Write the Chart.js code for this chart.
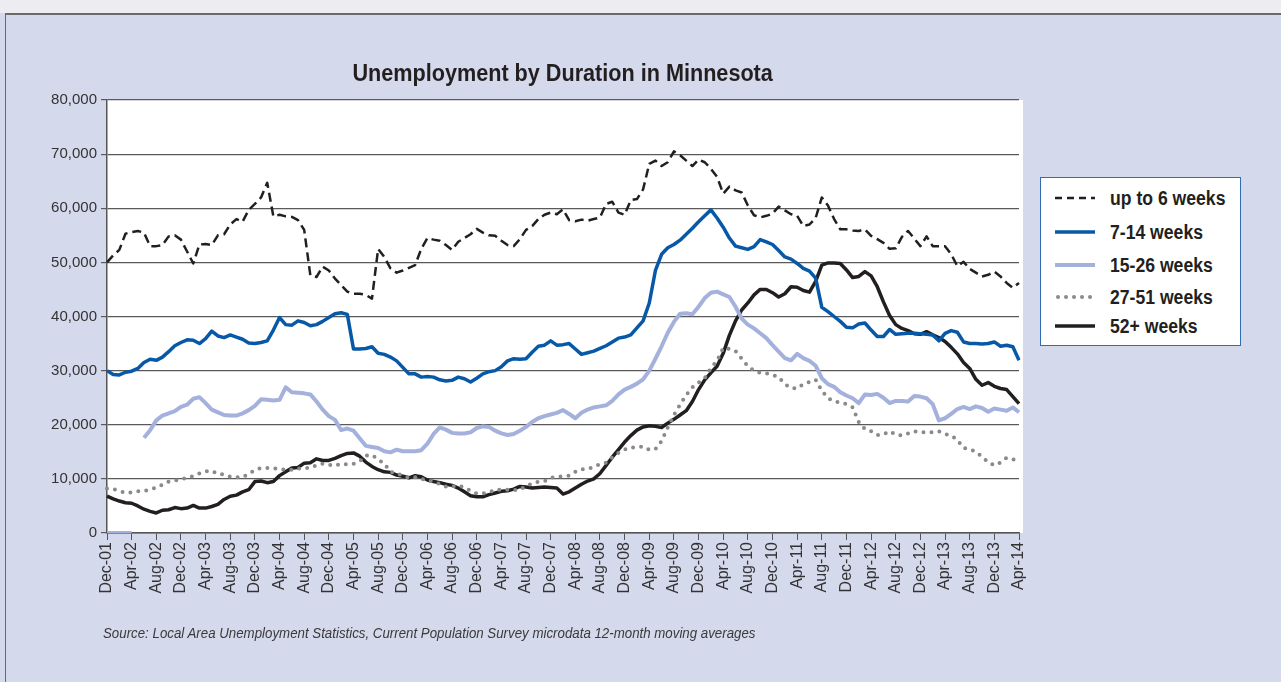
<!DOCTYPE html>
<html>
<head>
<meta charset="utf-8">
<script src="https://cdn.jsdelivr.net/npm/chart.js@4/dist/chart.umd.min.js"></script>
<style>
  body { margin: 0; background: #d5d9ec; width: 1281px; height: 682px; overflow: hidden; position: relative; font-family: "Liberation Sans", Arial, sans-serif; }
  #topstrip { position: absolute; left: 0; top: 0; width: 1281px; height: 13px; background: #ededf1; }
  #frame { position: absolute; left: 5px; top: 13px; width: 1290px; height: 700px; border-left: 1px solid #6a6a6a; border-top: 2px solid #6a6a6a; }
  #chart { position: absolute; left: 0; top: 0; }
  #title { position: absolute; left: 0; top: 59px; width: 1126px; text-align: center; font-weight: bold; font-size: 23px; line-height: 28px; color: #231f20; white-space: nowrap; }
  #title span { display: inline-block; transform: scaleX(0.94); }
  #legend { position: absolute; left: 1040px; top: 177px; width: 199px; height: 167px; border: 1px solid #2f6db5; background: #fff; }
  .row { position: absolute; left: 0; height: 24px; width: 199px; }
  .row svg { position: absolute; left: 14px; top: 7px; }
  .row span { position: absolute; left: 69px; top: 0; font-weight: bold; font-size: 20px; color: #231f20; line-height: 24px; white-space: nowrap; transform: scaleX(0.88); transform-origin: 0 50%; }
  #source { position: absolute; left: 103px; top: 624px; font-style: italic; font-size: 15px; color: #3a3a3a; white-space: nowrap; transform: scaleX(0.886); transform-origin: 0 50%; }
</style>
</head>
<body>
<div id="topstrip"></div>
<div id="frame"></div>
<canvas id="chart" width="1130" height="682"></canvas>
<div id="title"><span>Unemployment by Duration in Minnesota</span></div>
<div id="legend"></div>
<div id="source">Source: Local Area Unemployment Statistics, Current Population Survey microdata 12-month moving averages</div>
<script>
// months Dec-01 .. Apr-14
const monthNames = ["Jan","Feb","Mar","Apr","May","Jun","Jul","Aug","Sep","Oct","Nov","Dec"];
const categories = [];
for (let y = 2001, m = 11; ; m++) {
  if (m > 11) { m = 0; y++; }
  if (y === 2014 && m > 3) break;
  categories.push(monthNames[m] + "-" + String(y % 100).padStart(2, "0"));
}

const yTicks = [0, 10000, 20000, 30000, 40000, 50000, 60000, 70000, 80000];

const upTo6 = [
  50000, 51300, 52300, 55300, 55600, 55800, 55500, 53000, 53000, 53200, 54800, 55000,
  54200, 52000, 49800, 53300, 53400, 53200, 55000, 55200, 57000, 58000, 57500, 59700,
  60800, 62000, 64700, 58500, 58800, 58500, 58400, 57800, 56000, 47600, 47300, 49200,
  48500, 47000, 45800, 44600, 44200, 44200, 44000, 43300, 52500, 51000, 48900, 48100,
  48500, 49000, 49500, 52500, 54500, 54200, 54000, 53200, 52300, 53800, 54500, 55200,
  56200, 55500, 55000, 54900, 54000, 53200, 53000, 54300, 56000, 56700, 58000, 58800,
  59200, 58900, 59800, 57800, 57600, 57900, 57700, 58000, 58300, 60800, 61200, 59200,
  58800, 61500, 61700, 63500, 68200, 68800, 67800, 68500, 70500, 69800, 68800, 67800,
  69000, 68500, 67300, 65800, 62700, 64000, 63300, 62900, 60500, 58700, 58300, 58600,
  59000, 60300, 59600, 58900, 58600, 56700, 57000, 58200, 62000, 60500, 58000, 56100,
  56100, 55900, 55800, 56100, 54900, 54300, 53600, 52500, 52600, 54700, 55800, 54400,
  53000, 54800, 53000, 53000, 53000, 51500, 49300, 50100, 48800, 48100, 47400, 47700,
  48300, 47400, 46200, 45300, 46200
];

const wk7to14 = [
  30000, 29300, 29200, 29700, 29900, 30400, 31500, 32100, 31900, 32500, 33500, 34600,
  35200, 35700, 35600, 35000, 35900, 37300, 36400, 36100, 36600, 36200, 35800, 35100,
  35000, 35200, 35500, 37500, 39800, 38500, 38400, 39200, 38900, 38300, 38500, 39100,
  39800, 40500, 40700, 40400, 34000, 34000, 34100, 34400, 33200, 33000, 32500, 31800,
  30600, 29400, 29400, 28800, 28900, 28800, 28300, 28100, 28200, 28800, 28500, 27900,
  28600, 29400, 29800, 30000, 30700, 31800, 32200, 32100, 32200, 33400, 34500, 34700,
  35500, 34700, 34800, 35000, 34000, 33000, 33300, 33600, 34100, 34600, 35300, 36000,
  36200, 36600, 37900, 39200, 42500, 48500, 51500, 52700, 53300, 54100, 55200, 56300,
  57500, 58600, 59700, 58200, 56500, 54500, 53000, 52700, 52400, 52900, 54200, 53800,
  53300, 52200, 51000, 50600, 49800, 48900, 48400, 47100, 41700, 40900, 40000, 39100,
  38000, 37900, 38600, 38800, 37500, 36300, 36300, 37600, 36700, 36800, 36900, 36900,
  36800, 36700, 36600, 35500, 36900, 37400, 37100, 35300, 35000, 35000, 34900, 35000,
  35300, 34500, 34700, 34400, 31900
];

const wk15to26 = [
  0, 0, 0, 0, 0, null, 17600, 19000, 20800, 21700, 22100, 22500,
  23300, 23700, 24800, 25100, 24000, 22800, 22300, 21800, 21700, 21700, 22100, 22700,
  23500, 24700, 24600, 24500, 24600, 26900, 26000, 25900, 25800, 25600, 24300, 22800,
  21600, 20900, 19000, 19300, 18900, 17500, 16100, 15900, 15700, 15100, 14900, 15400,
  15100, 15100, 15100, 15300, 16500, 18300, 19500, 19100, 18500, 18400, 18400, 18600,
  19400, 19700, 19600, 18900, 18400, 18100, 18300, 18900, 19600, 20500, 21200, 21600,
  21900, 22200, 22700, 22000, 21200, 22200, 22800, 23200, 23400, 23600, 24400, 25600,
  26500, 27000, 27600, 28400, 30000, 32200, 34500, 37000, 39000, 40500, 40600, 40400,
  41800, 43400, 44400, 44600, 44100, 43600, 41800, 39600, 38500, 37800, 36900, 36000,
  34700, 33500, 32300, 31900, 33100, 32300, 31800, 30900, 28600, 27500, 27000, 26000,
  25400, 24900, 24000, 25600, 25500, 25700, 25000, 24000, 24400, 24400, 24300, 25300,
  25200, 24900, 23800, 20800, 21200, 22000, 22900, 23300, 22900, 23400, 23100, 22400,
  23000, 22800, 22600, 23200, 22300
];

const wk27to51 = [
  8200, 8100, 7800, 7400, 7500, 7700, 7800, 8000, 8400, 8900, 9500, 9700,
  9900, 10200, 10500, 11000, 11400, 11500, 10900, 10800, 10400, 10300, 10300, 10900,
  11600, 12000, 12000, 12000, 11800, 11700, 11700, 11900, 12000, 12000, 12500, 12800,
  12600, 12400, 12800, 12700, 12800, 13200, 14300, 14400, 13600, 12800, 11300, 11000,
  10600, 10200, 10300, 10000, 9800, 9400, 9100, 8600, 8600, 8800, 8400, 7800,
  7300, 7300, 7500, 8000, 8000, 8000, 7900, 8000, 8700, 9100, 9500, 9600,
  10200, 10400, 10500, 10600, 11300, 11800, 11800, 12200, 12700, 13000, 14000, 14800,
  15400, 15800, 15800, 16000, 15400, 15500, 17000, 19500, 21800, 23700, 25500, 26900,
  27800, 28600, 30500, 31800, 34200, 34000, 33600, 32200, 30800, 30000, 29600, 29500,
  29200, 28800, 27500, 26800, 26700, 27500, 27900, 28300, 26300, 24900, 24300, 24100,
  23800, 23200, 20500, 19200, 18800, 18100, 18200, 18800, 18200, 18000, 18400, 18800,
  18600, 18600, 18600, 18800, 18300, 18000, 17200, 15700, 15500, 15000, 14100, 13100,
  12500, 13000, 13900, 13600, 13400
];

const wk52plus = [
  6800, 6300, 5900, 5600, 5500, 5000, 4400, 4000, 3700, 4200, 4300, 4700,
  4500, 4600, 5100, 4600, 4600, 4900, 5300, 6200, 6800, 7000, 7600, 8000,
  9500, 9600, 9300, 9500, 10600, 11300, 12000, 12100, 12900, 13000, 13700, 13400,
  13400, 13800, 14300, 14700, 14800, 14200, 13100, 12300, 11700, 11300, 11200, 10700,
  10500, 10200, 10600, 10400, 9800, 9500, 9300, 9000, 8800, 8300, 7600, 6900,
  6700, 6700, 7100, 7400, 7700, 7800, 8100, 8600, 8500, 8300, 8400, 8500,
  8400, 8300, 7200, 7600, 8300, 9000, 9600, 10000, 11000, 12500, 14000, 15400,
  16800, 18000, 19000, 19600, 19800, 19700, 19500, 20300, 21000, 21800, 22600, 24300,
  26500, 28300, 29600, 30800, 33200, 36500, 39200, 41200, 42500, 44000, 45000, 45000,
  44400, 43600, 44200, 45500, 45400, 44800, 44500, 46500, 49500, 49900, 49900, 49800,
  48600, 47200, 47400, 48300, 47500, 45500, 42700, 40200, 38500, 37800, 37400, 36800,
  36700, 37200, 36600, 36100, 35400, 34300, 33100, 31500, 30400, 28400, 27300, 27800,
  27100, 26700, 26500, 25200, 23900
];

const series = [
  { label: "up to 6 weeks", data: upTo6, color: "#231f20", width: 2.5, dash: [9, 5], cap: "butt" },
  { label: "7-14 weeks", data: wk7to14, color: "#0759a8", width: 3.5, dash: [], cap: "butt" },
  { label: "15-26 weeks", data: wk15to26, color: "#a3b1dc", width: 4, dash: [], cap: "butt" },
  { label: "27-51 weeks", data: wk27to51, color: "#8a8a8a", width: 4, dash: [0, 8], cap: "round" },
  { label: "52+ weeks", data: wk52plus, color: "#231f20", width: 3.5, dash: [], cap: "butt" }
];

// white plot area (a touch wider than the last point, like the original)
const plotBg = {
  id: "plotBg",
  beforeDraw(c) {
    const a = c.chartArea;
    c.ctx.save();
    c.ctx.fillStyle = "#fff";
    c.ctx.fillRect(a.left, a.top, a.right - a.left + 4, a.bottom - a.top);
    c.ctx.restore();
  }
};

new Chart(document.getElementById("chart").getContext("2d"), {
  type: "line",
  data: {
    labels: categories,
    datasets: series.map(s => ({
      label: s.label,
      data: s.data,
      borderColor: s.color,
      backgroundColor: s.color,
      borderWidth: s.width,
      borderDash: s.dash,
      borderCapStyle: s.cap,
      borderJoinStyle: "round",
      pointRadius: 0,
      tension: 0,
      spanGaps: false,
      fill: false
    }))
  },
  options: {
    responsive: false,
    animation: false,
    devicePixelRatio: 1,
    layout: { padding: { left: 0, right: 111, top: 100, bottom: 0 } },
    plugins: {
      legend: { display: false },
      tooltip: { enabled: false },
      title: { display: false }
    },
    scales: {
      x: {
        offset: false,
        grid: {
          drawOnChartArea: false,
          tickLength: 7,
          color: ctx => (ctx.index % 4 === 0 ? "#555" : "rgba(0,0,0,0)")
        },
        border: { display: true, color: "#555", width: 1.5 },
        ticks: {
          autoSkip: false,
          minRotation: 90,
          maxRotation: 90,
          padding: 2,
          color: "#333",
          font: { family: '"Liberation Sans", Arial, sans-serif', size: 16 },
          callback: (v, i) => (i % 4 === 0 ? categories[i] : "")
        },
        afterFit: s => { s.height = 149; }
      },
      y: {
        min: 0,
        max: 80000,
        afterBuildTicks: s => { s.ticks = yTicks.map(v => ({ value: v })); },
        grid: { color: "#5a5a5a", lineWidth: 1.2, tickLength: 6 },
        border: { display: true, color: "#555", width: 1.5 },
        ticks: {
          padding: 4,
          color: "#333",
          font: { family: '"Liberation Sans", Arial, sans-serif', size: 15 },
          callback: v => v.toLocaleString("en-US")
        },
        afterFit: s => { s.width = 107; }
      }
    }
  },
  plugins: [plotBg]
});

// legend box
const legendRows = [20, 54, 87, 119, 148];
const legend = document.getElementById("legend");
series.forEach((s, i) => {
  const row = document.createElement("div");
  row.className = "row";
  row.style.top = (legendRows[i] - 12) + "px";
  const dash = s.dash.length ? ` stroke-dasharray="${s.dash[0] === 0 ? "0 8" : "7 5"}"` : "";
  row.innerHTML =
    `<svg width="44" height="10"><line x1="${s.cap === "round" ? 3 : 0}" y1="5" x2="40" y2="5" stroke="${s.color}" stroke-width="${s.cap === "round" ? 4 : s.width}" stroke-linecap="${s.cap}"${dash}/></svg>` +
    `<span>${s.label}</span>`;
  legend.appendChild(row);
});
</script>
</body>
</html>
